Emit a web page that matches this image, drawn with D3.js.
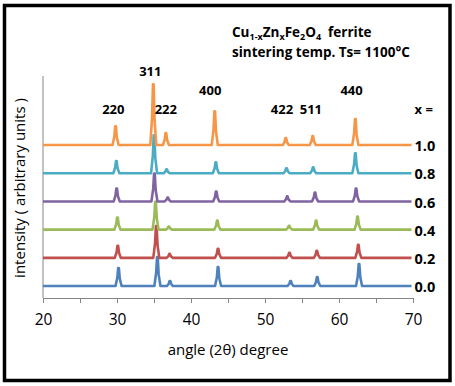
<!DOCTYPE html>
<html>
<head>
<meta charset="utf-8">
<script src="https://cdn.jsdelivr.net/npm/d3@7"></script>
<style>
  body { margin: 0; background: #fff; }
  svg { display: block; }
  text { font-family: "Open Sans", "Noto Sans", sans-serif; }
</style>
</head>
<body>
<div id="wrapper"></div>
<script>
// reflections and compositions
const hkl = ["220", "311", "222", "400", "422", "511", "440"];
const compositions = ["0.0", "0.2", "0.4", "0.6", "0.8", "1.0"];
const offsets = [0, 100, 200, 300, 400, 500];
const colors = ["#4F81BD", "#C0504D", "#9BBB59", "#8064A2", "#4BACC6", "#F79646"];

// peak positions (2theta), one array per x
const pos00 = [30.2, 35.45, 37.15, 43.65, 53.45, 57.05, 62.7];
const pos02 = [30.1, 35.3, 37.1, 43.65, 53.3, 57.0, 62.6];
const pos04 = [30.05, 35.2, 37.0, 43.55, 53.25, 56.9, 62.5];
const pos06 = [29.95, 35.05, 36.85, 43.4, 53.0, 56.75, 62.3];
const pos08 = [29.9, 35.0, 36.7, 43.35, 52.9, 56.5, 62.2];
const pos10 = [29.8, 34.9, 36.6, 43.2, 52.8, 56.45, 62.2];

// peak heights (arbitrary units above each trace's baseline)
const int00 = [64, 103, 18, 67, 18, 32, 78];
const int02 = [43, 113, 14, 32, 18, 25, 46];
const int04 = [43, 99, 11, 32, 14, 32, 46];
const int06 = [46, 99, 14, 35, 18, 32, 46];
const int08 = [43, 135, 14, 39, 18, 21, 71];
const int10 = [67, 216, 43, 120, 25, 32, 92];

const xTicks = [20, 25, 30, 35, 40, 45, 50, 55, 60, 65, 70];
const xTickLabels = [20, 30, 40, 50, 60, 70];

const allPos = [pos00, pos02, pos04, pos06, pos08, pos10];
const allInt = [int00, int02, int04, int06, int08, int10];

const width = 455;
const height = 386;
let dimensions = {
    width: width,
    height: height,
    margin: { top: 76, right: 42, bottom: 88, left: 43 },
};
dimensions.boundedWidth = dimensions.width - dimensions.margin.left - dimensions.margin.right;
dimensions.boundedHeight = dimensions.height - dimensions.margin.top - dimensions.margin.bottom;

const wrapper = d3.select("#wrapper")
    .append("svg")
    .attr("width", dimensions.width)
    .attr("height", dimensions.height);

// outer frame
wrapper.append("rect")
    .attr("x", 4.5).attr("y", 5.5)
    .attr("width", 445.5).attr("height", 375)
    .attr("fill", "none")
    .attr("stroke", "#000")
    .attr("stroke-width", 3.5);

const bounds = wrapper.append("g")
    .attr("transform", `translate(${dimensions.margin.left},${dimensions.margin.top})`);

const xScaler = d3.scaleLinear()
    .domain([20, 70])
    .range([0, dimensions.boundedWidth]);

const yScaler = d3.scaleLinear()
    .domain([-42.5, 745])
    .range([dimensions.boundedHeight, 0]);

// y axis: bare line
bounds.append("line")
    .attr("x1", 0).attr("x2", 0)
    .attr("y1", 0).attr("y2", dimensions.boundedHeight)
    .attr("stroke", "#868686")
    .attr("stroke-width", 1);

// x axis
const xAxisGen = d3.axisBottom(xScaler)
    .tickValues(xTicks)
    .tickSizeInner(5)
    .tickSizeOuter(0)
    .tickFormat(d => xTickLabels.includes(d) ? d : "");
const xAxis = bounds.append("g")
    .attr("transform", `translate(0,${dimensions.boundedHeight})`)
    .call(xAxisGen);
xAxis.select(".domain").attr("stroke", "#868686");
xAxis.selectAll(".tick line").attr("stroke", "#868686");
xAxis.selectAll(".tick text")
    .attr("fill", "#000")
    .attr("font-size", "15.5px")
    .attr("dy", "1.2em")
    .style("font-family", "'Open Sans', sans-serif");

// traces: baseline + peaks, drawn through the scales
const line = d3.line()
    .x(d => xScaler(d[0]))
    .y(d => yScaler(d[1]));

function tracePoints(pos, ints, off) {
    const pts = [[20, off]];
    pos.forEach((p, i) => {
        const h = ints[i];
        pts.push([p - 0.4, off]);
        pts.push([p - 0.16, off + h * 0.45]);
        pts.push([p - 0.04, off + h]);
        pts.push([p + 0.05, off + h]);
        pts.push([p + 0.18, off + h * 0.4]);
        pts.push([p + 0.42, off]);
    });
    pts.push([69.8, off]);
    return pts;
}

compositions.forEach((c, i) => {
    bounds.append("path")
        .datum(tracePoints(allPos[i], allInt[i], offsets[i]))
        .attr("d", line)
        .attr("fill", "none")
        .attr("stroke", colors[i])
        .attr("stroke-width", 2.6)
        .attr("stroke-linejoin", "round");

    bounds.append("text")
        .attr("x", xScaler(69.8) + 3)
        .attr("y", yScaler(offsets[i]) + 1)
        .attr("dy", "0.35em")
        .attr("font-size", "14.5px")
        .attr("font-weight", "bold")
        .text(c);
});

// hkl labels (angle, intensity) placement
const hklAt = [[29.5, 628], [34.5, 762], [36.6, 628], [42.6, 695], [52.3, 628], [56.2, 628], [61.7, 695]];
hkl.forEach((h, i) => {
    bounds.append("text")
        .attr("x", xScaler(hklAt[i][0]))
        .attr("y", yScaler(hklAt[i][1]))
        .attr("dy", "0.35em")
        .attr("text-anchor", "middle")
        .attr("font-size", "13px")
        .attr("font-weight", "bold")
        .text(h);
});

bounds.append("text")
    .attr("x", xScaler(69.8) + 3)
    .attr("y", yScaler(628))
    .attr("dy", "0.35em")
    .attr("font-size", "13px")
    .attr("font-weight", "bold")
    .text("x =");

// titles
const title = wrapper.append("text")
    .attr("x", 232).attr("y", 37)
    .attr("font-size", "13.5px")
    .attr("font-weight", "bold");
title.append("tspan").text("Cu");
title.append("tspan").text("1-x").attr("font-size", "9px").attr("dy", 3);
title.append("tspan").text("Zn").attr("dy", -3);
title.append("tspan").text("x").attr("font-size", "9px").attr("dy", 3);
title.append("tspan").text("Fe").attr("dy", -3);
title.append("tspan").text("2").attr("font-size", "9px").attr("dy", 3);
title.append("tspan").text("O").attr("dy", -3);
title.append("tspan").text("4").attr("font-size", "9px").attr("dy", 3);
title.append("tspan").text("\u00a0 ferrite").attr("dy", -3);

wrapper.append("text")
    .attr("x", 232).attr("y", 57)
    .attr("font-size", "13.5px")
    .attr("font-weight", "bold")
    .text("sintering temp. Ts= 1100°C");

// axis labels
wrapper.append("text")
    .attr("x", dimensions.margin.left + dimensions.boundedWidth / 2)
    .attr("y", 355)
    .attr("text-anchor", "middle")
    .attr("font-size", "15px")
    .text("angle (2θ) degree");

wrapper.append("text")
    .attr("transform", `translate(25,${dimensions.margin.top + 112}) rotate(-90)`)
    .attr("text-anchor", "middle")
    .attr("font-size", "15px")
    .text("intensity ( arbitrary units )");
</script>
</body>
</html>
